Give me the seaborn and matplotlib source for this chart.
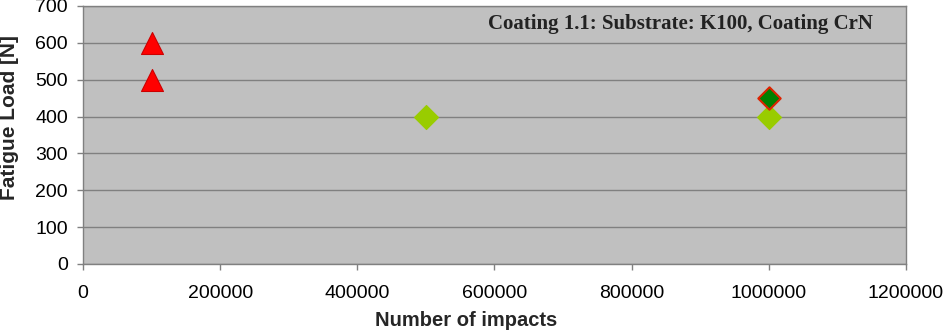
import matplotlib
matplotlib.use("Agg")
import matplotlib.pyplot as plt
import seaborn as sns
import pandas as pd

# Fatigue test results for coating 1.1
fail_impacts = [100000, 100000]
fail_loads = [600, 500]
pass_impacts = [500000, 1000000]
pass_loads = [400, 400]
edge_impacts = [1000000]
edge_loads = [450]

x_ticks = [0, 200000, 400000, 600000, 800000, 1000000, 1200000]
y_ticks = [0, 100, 200, 300, 400, 500, 600, 700]

sns.set_theme(style="white")
plt.rcParams["font.family"] = ["Liberation Sans", "DejaVu Sans"]

W, H = 945, 333
fig = plt.figure(figsize=(W / 100, H / 100), dpi=100)
ax = fig.add_axes([83 / W, (H - 264) / H, 823 / W, 258 / H])
ax.set_facecolor("#c0c0c0")

df_fail = pd.DataFrame({"impacts": fail_impacts, "load": fail_loads})
df_pass = pd.DataFrame({"impacts": pass_impacts, "load": pass_loads})
df_edge = pd.DataFrame({"impacts": edge_impacts, "load": edge_loads})

sns.scatterplot(data=df_fail, x="impacts", y="load", marker="^", s=250,
                color="#ff0000", edgecolor="#cc0000", linewidth=0.8, ax=ax, zorder=3)
sns.scatterplot(data=df_pass, x="impacts", y="load", marker="D", s=150,
                color="#99cc00", edgecolor="#99cc00", linewidth=0.8, ax=ax, zorder=3)
sns.scatterplot(data=df_edge, x="impacts", y="load", marker="D", s=130,
                color="#008000", edgecolor="#dd2200", linewidth=1.5, ax=ax, zorder=4)

ax.set_xlim(0, 1200000)
ax.set_ylim(0, 700)
ax.set_xticks(x_ticks)
ax.set_xticklabels([str(v) for v in x_ticks])
ax.set_yticks(y_ticks)
ax.set_yticklabels([str(v) for v in y_ticks])

ax.yaxis.grid(True, color="#808080", linewidth=1.0)
ax.xaxis.grid(False)
ax.set_axisbelow(True)

for side in ["left", "bottom", "top", "right"]:
    ax.spines[side].set_color("#808080")
    ax.spines[side].set_linewidth(1.0)

ax.tick_params(axis="y", which="major", direction="out", length=4.3, width=1,
               color="#808080", pad=6.5, labelsize=14, labelcolor="black", left=True)
ax.tick_params(axis="x", which="major", direction="out", length=4.3, width=1,
               color="#808080", pad=11, labelsize=14, labelcolor="black", bottom=True)

ax.set_xlabel("Number of impacts", fontsize=14.5, fontweight="bold")
ax.set_ylabel("Fatigue Load [N]", fontsize=15, fontweight="bold")
ax.xaxis.set_label_coords((466 - 83) / 823, -(321 - 264) / 258)
ax.yaxis.set_label_coords(-(83 - 10) / 823, (264 - 118) / 258)
ax.xaxis.label.set_va("center")
ax.yaxis.label.set_va("center")

ax.text((680 - 83) / 823, (264 - 24) / 258, "Coating 1.1: Substrate: K100, Coating CrN",
        transform=ax.transAxes, ha="center", va="center",
        fontsize=15, fontweight="bold", color="#222222",
        family=["Liberation Serif", "DejaVu Serif"])

fig.savefig("out.png", dpi=100)
